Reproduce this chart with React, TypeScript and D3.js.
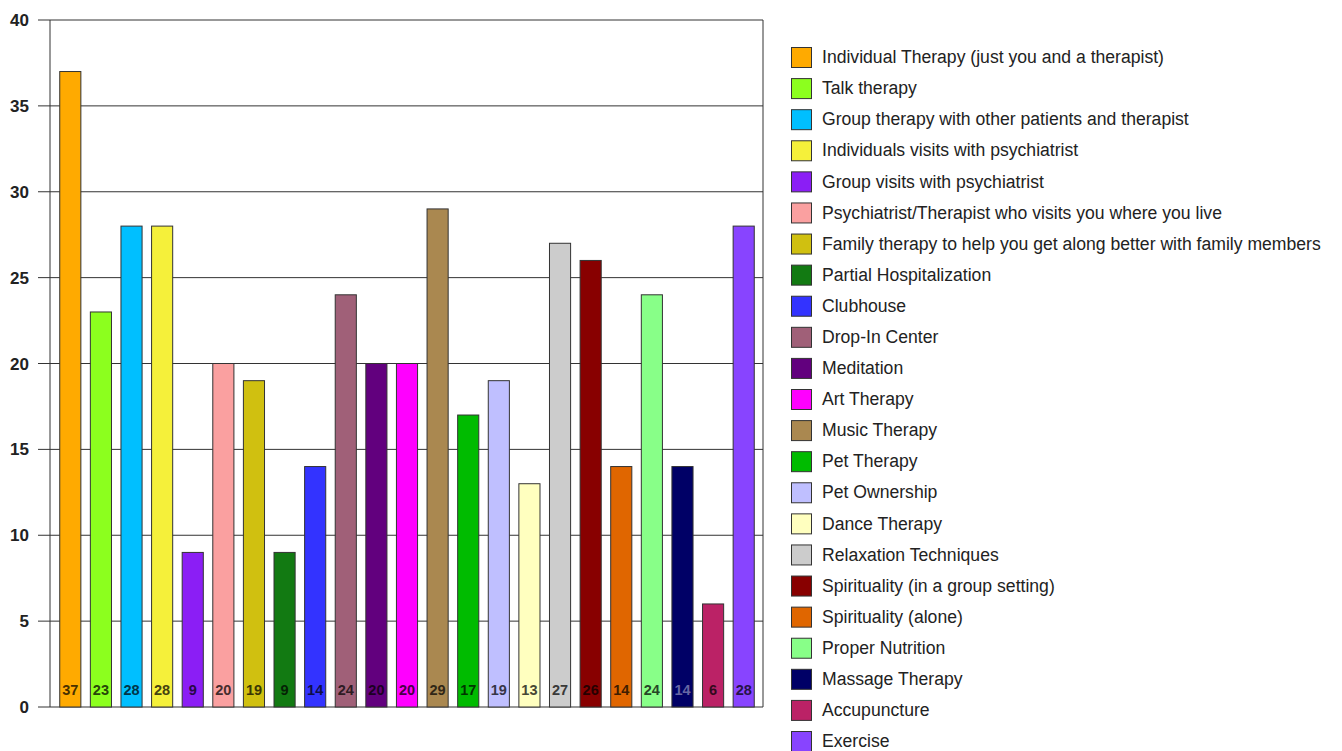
import React from 'react';
import * as d3 from 'd3';

const categories = [
  'Individual Therapy (just you and a therapist)',
  'Talk therapy',
  'Group therapy with other patients and therapist',
  'Individuals visits with psychiatrist',
  'Group visits with psychiatrist',
  'Psychiatrist/Therapist who visits you where you live',
  'Family therapy to help you get along better with family members',
  'Partial Hospitalization',
  'Clubhouse',
  'Drop-In Center',
  'Meditation',
  'Art Therapy',
  'Music Therapy',
  'Pet Therapy',
  'Pet Ownership',
  'Dance Therapy',
  'Relaxation Techniques',
  'Spirituality (in a group setting)',
  'Spirituality (alone)',
  'Proper Nutrition',
  'Massage Therapy',
  'Accupuncture',
  'Exercise',
];

const counts = [37, 23, 28, 28, 9, 20, 19, 9, 14, 24, 20, 20, 29, 17, 19, 13, 27, 26, 14, 24, 14, 6, 28];

const colors = [
  '#ffaa00', '#8cff1e', '#00bfff', '#f5f03a', '#8b1ef5', '#faa0a0', '#d0c010', '#127a12',
  '#3333ff', '#a06078', '#62007e', '#ff00ff', '#aa8850', '#00bb00', '#bfbfff', '#ffffbf',
  '#cccccc', '#880000', '#e06600', '#88ff88', '#000066', '#bb2266', '#8844ff',
];

const yTicks = [0, 5, 10, 15, 20, 25, 30, 35, 40];

// value labels use a dark shade of the bar colour (a light one on very dark bars)
const labelColor = (c: string) => {
  if (d3.hsl(c).l < 0.22) return d3.interpolateRgb(c, '#ffffff')(0.4);
  return d3.interpolateRgb(c, '#000000')(0.72);
};

export default function App() {
  const width = 1342;
  const height = 751;
  const plot = { left: 50, right: 763, top: 20, bottom: 707 };

  const y = d3.scaleLinear().domain([0, 40]).range([plot.bottom, plot.top]);
  const x = d3
    .scaleBand<number>()
    .domain(counts.map((_, i) => i))
    .range([55, 759])
    .paddingInner(0.31)
    .paddingOuter(0.155);

  const legendY = d3
    .scalePoint<number>()
    .domain(categories.map((_, i) => i))
    .range([57, 741]);

  const font = 'Arial, "Liberation Sans", sans-serif';

  return (
    <svg width={width} height={height} style={{ position: 'absolute', left: 0, top: 0 }} fontFamily={font}>
      <rect width={width} height={height} fill="#fff" />
      {yTicks.map((t) => (
        <g key={t}>
          <line x1={38} x2={plot.right} y1={y(t)} y2={y(t)} stroke="#333" strokeWidth={1} />
          <text x={29} y={y(t)} dy="0.36em" textAnchor="end" fontSize={17} fontWeight="bold" fill="#222">
            {t}
          </text>
        </g>
      ))}
      <line x1={plot.left} x2={plot.left} y1={plot.top} y2={plot.bottom} stroke="#333" />
      <line x1={plot.right} x2={plot.right} y1={plot.top} y2={plot.bottom} stroke="#333" />
      {counts.map((v, i) => (
        <g key={i}>
          <rect
            x={x(i)!}
            y={y(v)}
            width={x.bandwidth()}
            height={y(0) - y(v)}
            fill={colors[i]}
            stroke="#333"
            strokeWidth={1}
          />
          <text
            x={x(i)! + x.bandwidth() / 2}
            y={y(0) - 12}
            textAnchor="middle"
            fontSize={14.5}
            fontWeight="bold"
            fill={labelColor(colors[i])}
          >
            {v}
          </text>
        </g>
      ))}
      {categories.map((c, i) => (
        <g key={c} transform={`translate(791, ${legendY(i)})`}>
          <rect x={0.5} y={-9.5} width={20} height={20} fill={colors[i]} stroke="#333" />
          <text x={31} y={0} dy="0.35em" fontSize={17.6} fill="#222">
            {c}
          </text>
        </g>
      ))}
    </svg>
  );
}
